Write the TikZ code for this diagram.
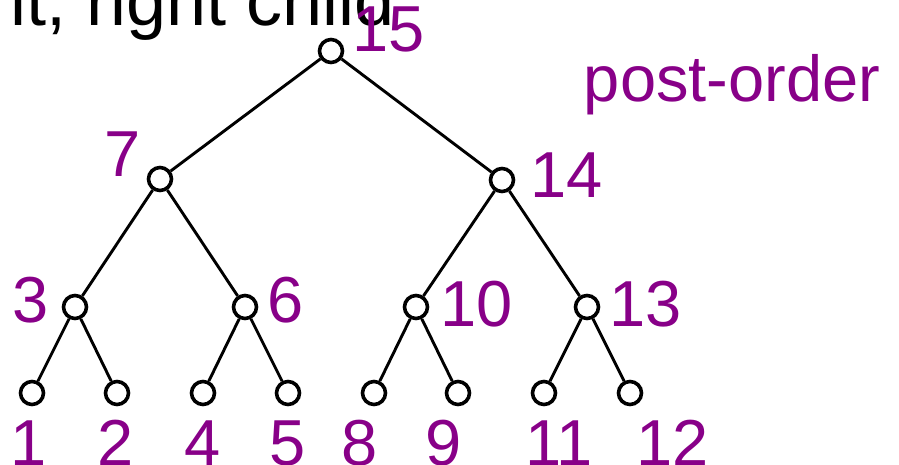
\documentclass[tikz,border=0pt]{standalone}
\usepackage{fontspec}
\setmainfont{Liberation Sans}
\definecolor{lab}{RGB}{136,0,136}
\begin{document}
\begin{tikzpicture}[x=1pt,y=-1pt,
  vtx/.style={circle,draw,line width=3.6pt,minimum size=23pt,inner sep=0pt,fill=white},
  lbl/.style={text=lab,font=\fontsize{65}{70}\selectfont,inner sep=0pt,anchor=base},
  edge/.style={line width=2.9pt}]
\useasboundingbox (0,0) rectangle (899,465);
\node[font=\fontsize{72}{82}\selectfont,inner sep=0pt,anchor=base west] (top) at (10,26) {lt, right child};
% vertices
\node[vtx] (n15) at (331,51) {};
\node[vtx] (n7) at (160,179) {};
\node[vtx] (n14) at (502,180) {};
\node[vtx] (n3) at (75,307) {};
\node[vtx] (n6) at (245,307) {};
\node[vtx] (n10) at (416,307) {};
\node[vtx] (n13) at (587,307) {};
\node[vtx] (n1) at (32,393) {};
\node[vtx] (n2) at (117,393) {};
\node[vtx] (n4) at (203,393) {};
\node[vtx] (n5) at (288,393) {};
\node[vtx] (n8) at (374,393) {};
\node[vtx] (n9) at (458,393) {};
\node[vtx] (n11) at (544,393) {};
\node[vtx] (n12) at (630,393) {};
% edges
\foreach \a/\b in {n15/n7,n15/n14,n7/n3,n7/n6,n14/n10,n14/n13,n3/n1,n3/n2,n6/n4,n6/n5,n10/n8,n10/n9,n13/n11,n13/n12}
  \draw[edge] (\a) -- (\b);
% labels
\node[lbl] (l15) at (389,52) {15};
\node[lbl] (l7) at (123,177) {7};
\node[lbl] (l14) at (567,197) {14};
\node[lbl] (l3) at (31,322) {3};
\node[lbl] (l6) at (286,322) {6};
\node[lbl] (l10) at (477,326) {10};
\node[lbl] (l13) at (646,326) {13};
\node[lbl] (l1) at (29,465) {1};
\node[lbl] (l2) at (116,465) {2};
\node[lbl] (l4) at (203,465) {4};
\node[lbl] (l5) at (288,465) {5};
\node[lbl] (l8) at (360,465) {8};
\node[lbl] (l9) at (444,465) {9};
\node[lbl] (l11) at (559,465) {11};
\node[lbl] (l12) at (673,465) {12};
\node[lbl] (po) at (732,102) {post-order};
\end{tikzpicture}
\end{document}
